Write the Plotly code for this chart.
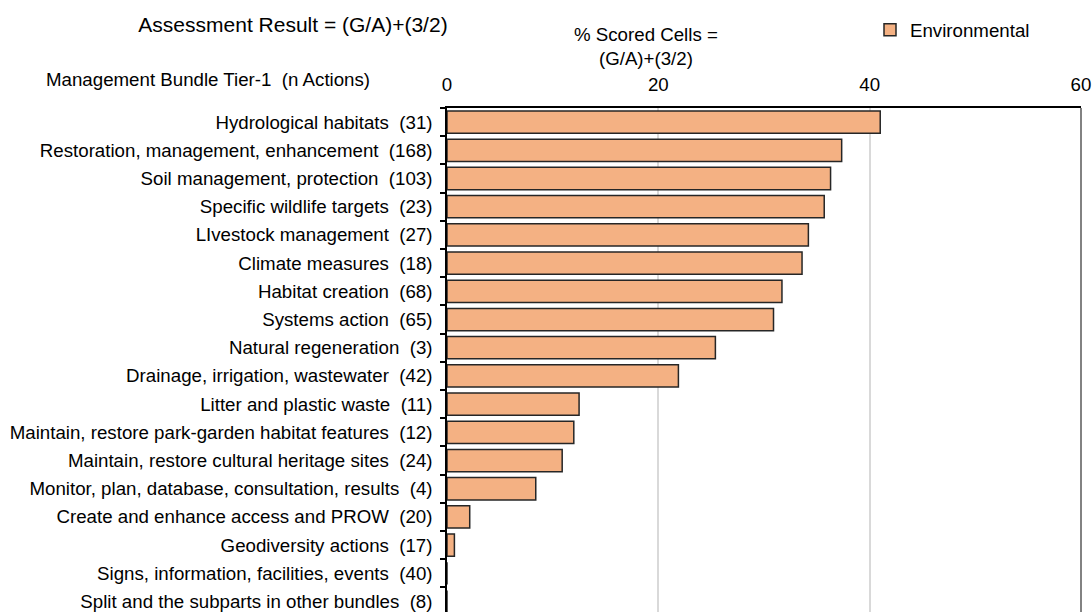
import plotly.graph_objects as go

categories = [
    'Hydrological habitats  (31)',
    'Restoration, management, enhancement  (168)',
    'Soil management, protection  (103)',
    'Specific wildlife targets  (23)',
    'LIvestock management  (27)',
    'Climate measures  (18)',
    'Habitat creation  (68)',
    'Systems action  (65)',
    'Natural regeneration  (3)',
    'Drainage, irrigation, wastewater  (42)',
    'Litter and plastic waste  (11)',
    'Maintain, restore park-garden habitat features  (12)',
    'Maintain, restore cultural heritage sites  (24)',
    'Monitor, plan, database, consultation, results  (4)',
    'Create and enhance access and PROW  (20)',
    'Geodiversity actions  (17)',
    'Signs, information, facilities, events  (40)',
    'Split and the subparts in other bundles  (8)',
]
environmental = [41.0, 37.35, 36.3, 35.7, 34.2, 33.6, 31.7, 30.9, 25.4, 21.9,
                 12.5, 12.0, 10.9, 8.4, 2.15, 0.7, 0, 0]

labels = [c.replace('  ', '\u00a0\u00a0') for c in categories]

font = 'Liberation Sans, Arial, sans-serif'
fs = 18.7

W, H = 1092, 612

fig = go.Figure(
    data=[
        go.Bar(
            x=environmental,
            y=labels,
            orientation='h',
            name='Environmental',
            marker=dict(
                color='#F4B183',
                line=dict(color='#262626', width=1.5),
            ),
        )
    ],
    layout=go.Layout(
        width=W,
        height=H,
        margin=dict(l=447, r=11, t=108, b=0, autoexpand=False),
        paper_bgcolor='white',
        plot_bgcolor='white',
        font=dict(family=font, size=fs, color='#000000'),
        bargap=0.21,
        title=dict(
            text='Assessment Result = (G/A)+(3/2)',
            x=293 / W,
            xanchor='center',
            xref='container',
            y=1 - 25 / H,
            yanchor='middle',
            yref='container',
            font=dict(size=21, family=font, color='#000000'),
        ),
        xaxis=dict(
            side='top',
            range=[0, 60],
            tickvals=[0, 20, 40, 60],
            showgrid=True,
            gridcolor='#D9D9D9',
            gridwidth=1.5,
            zeroline=False,
            showline=True,
            linecolor='#000000',
            linewidth=1.5,
            ticks='',
            ticklabelstandoff=8,
            automargin=False,
            tickfont=dict(size=fs),
        ),
        yaxis=dict(
            range=[17.37, -0.5],
            showline=True,
            linecolor='#000000',
            linewidth=1.5,
            ticks='outside',
            tickson='boundaries',
            ticklen=5,
            tickcolor='#000000',
            tickwidth=1.5,
            showgrid=False,
            ticklabelstandoff=9,
            automargin=False,
            tickfont=dict(size=fs),
        ),
        showlegend=True,
        legend=dict(
            x=870 / W,
            xref='container',
            y=1 - 30 / H,
            yref='container',
            yanchor='middle',
            xanchor='left',
            itemwidth=30,
            font=dict(size=fs),
            bgcolor='rgba(0,0,0,0)',
        ),
        annotations=[
            dict(
                text='Management Bundle Tier-1  (n Actions)'.replace('  ', '\u00a0\u00a0'),
                xref='paper', yref='paper',
                x=(208 - 447) / 634, y=1 + 28 / 504,
                xanchor='center', yanchor='middle',
                showarrow=False,
                font=dict(size=fs),
            ),
            dict(
                text='% Scored Cells =<br>(G/A)+(3/2)',
                xref='paper', yref='paper',
                x=(646 - 447) / 634, y=1 + 62 / 504,
                xanchor='center', yanchor='middle',
                showarrow=False,
                font=dict(size=fs),
            ),
        ],
        shapes=[
            dict(
                type='line', xref='paper', yref='paper',
                x0=1, x1=1, y0=0, y1=1,
                line=dict(color='#595959', width=1.5),
            )
        ],
    ),
)

# drop the browser's default 8px body margin so the figure fills the window
fig.write_html(
    'out.html',
    config={'displayModeBar': False},
    post_script="document.body.style.margin='0';",
)
